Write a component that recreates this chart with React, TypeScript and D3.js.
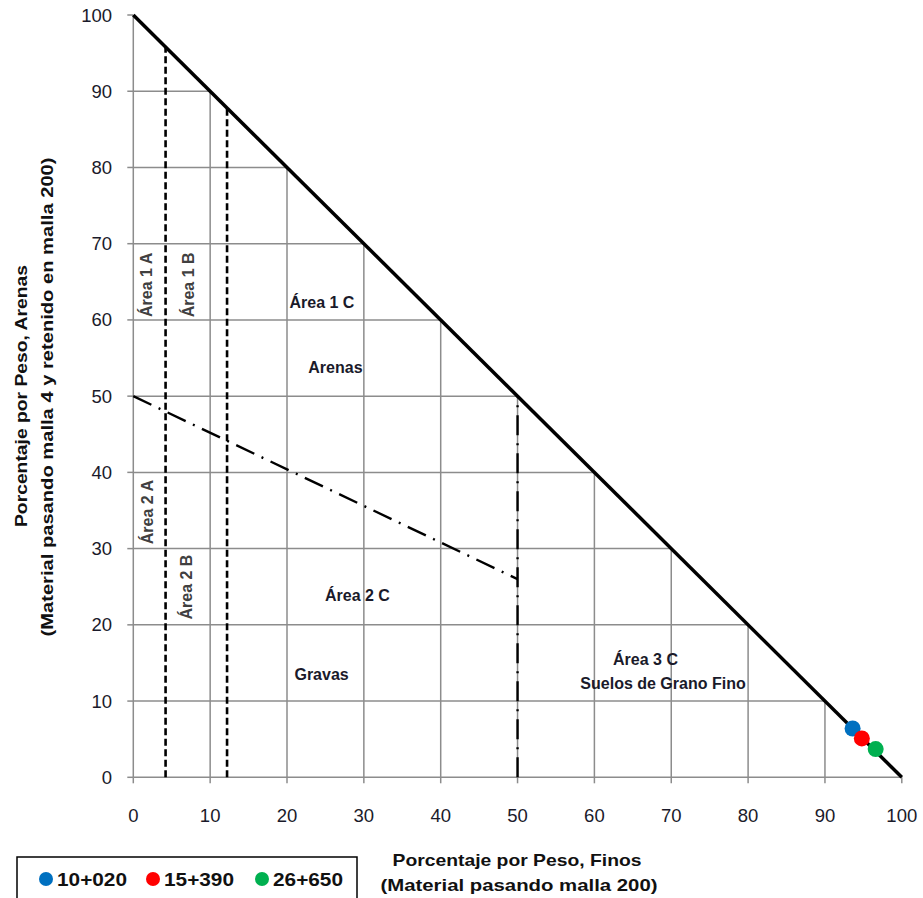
import React from "react";
import * as d3 from "d3";

const W = 923;
const H = 898;

const xTickValues = [0, 10, 20, 30, 40, 50, 60, 70, 80, 90, 100];
const yTickValues = [0, 10, 20, 30, 40, 50, 60, 70, 80, 90, 100];
const gridValues = [10, 20, 30, 40, 50, 60, 70, 80, 90];

const seriesNames = ["10+020", "15+390", "26+650"];
const seriesFines = [93.6, 94.8, 96.6];
const seriesSands = [6.4, 5.1, 3.7];
const seriesColors = ["#0070C0", "#FF0000", "#00B050"];

const dashedBoundaries = [4.2, 12.2];
const dashDotLine = [
  [0, 50],
  [50, 26],
];
const fineBoundary = 50;

const areaLabels = [
  { text: "Área 1 A", x: 1.78, y: 64.6, rotate: true },
  { text: "Área 1 B", x: 7.12, y: 64.6, rotate: true },
  { text: "Área 1 C", x: 24.55, y: 62.35, rotate: false },
  { text: "Arenas", x: 26.3, y: 53.7, rotate: false },
  { text: "Área 2 A", x: 1.85, y: 34.8, rotate: true },
  { text: "Área 2 B", x: 6.86, y: 24.96, rotate: true },
  { text: "Área 2 C", x: 29.17, y: 23.9, rotate: false },
  { text: "Gravas", x: 24.5, y: 13.55, rotate: false },
  { text: "Área 3 C", x: 66.65, y: 15.5, rotate: false },
  { text: "Suelos de Grano Fino", x: 68.93, y: 12.37, rotate: false },
];

const xTitle = ["Porcentaje por Peso, Finos", "(Material pasando malla 200)"];
const yTitle = [
  "Porcentaje por Peso, Arenas",
  "(Material pasando malla 4 y retenido en malla 200)",
];

const FONT = "'Liberation Sans', Arial, sans-serif";

export default function App() {
  const x = d3.scaleLinear().domain([0, 100]).range([133.3, 901.8]);
  const y = d3.scaleLinear().domain([0, 100]).range([777.3, 15]);
  const line = d3
    .line<number[]>()
    .x((d) => x(d[0]))
    .y((d) => y(d[1]));

  const gridColor = "#8c8c8c";

  return (
    <svg
      width={W}
      height={H}
      style={{ position: "absolute", left: 0, top: 0, background: "#fff" }}
      fontFamily={FONT}
    >
      <rect x={0} y={0} width={W} height={H} fill="#fff" />
      {/* grid clipped to triangle */}
      {gridValues.map((v) => (
        <line
          key={"gv" + v}
          x1={x(v)}
          x2={x(v)}
          y1={y(0)}
          y2={y(100 - v)}
          stroke={gridColor}
          strokeWidth={1.5}
        />
      ))}
      {gridValues.map((v) => (
        <line
          key={"gh" + v}
          x1={x(0)}
          x2={x(100 - v)}
          y1={y(v)}
          y2={y(v)}
          stroke={gridColor}
          strokeWidth={1.5}
        />
      ))}
      {/* axes */}
      <line x1={x(0)} x2={x(0)} y1={y(0)} y2={y(100)} stroke={gridColor} strokeWidth={1.5} />
      <line x1={x(0)} x2={x(100)} y1={y(0)} y2={y(0)} stroke={gridColor} strokeWidth={1.5} />
      {yTickValues.map((v) => (
        <g key={"yt" + v}>
          <line x1={x(0) - 6} x2={x(0)} y1={y(v)} y2={y(v)} stroke={gridColor} strokeWidth={1.5} />
          <text
            x={112}
            y={y(v)}
            textAnchor="end"
            dominantBaseline="central"
            fontSize={18.5}
            fill="#1a1a2a"
          >
            {v}
          </text>
        </g>
      ))}
      {xTickValues.map((v) => (
        <g key={"xt" + v}>
          <line x1={x(v)} x2={x(v)} y1={y(0)} y2={y(0) + 6} stroke={gridColor} strokeWidth={1.5} />
          <text
            x={x(v)}
            y={815}
            textAnchor="middle"
            dominantBaseline="central"
            fontSize={18.5}
            fill="#1a1a2a"
          >
            {v}
          </text>
        </g>
      ))}

      {/* dashed vertical boundaries */}
      {dashedBoundaries.map((v) => (
        <line
          key={"db" + v}
          x1={x(v)}
          x2={x(v)}
          y1={y(0)}
          y2={y(100 - v)}
          stroke="#000"
          strokeWidth={2.6}
          strokeDasharray="7,3.5"
        />
      ))}
      {/* dash-dot lines */}
      <path
        d={line(dashDotLine) || ""}
        fill="none"
        stroke="#000"
        strokeWidth={2.4}
        strokeDasharray="20,8,2,8"
      />
      <line
        x1={x(fineBoundary)}
        x2={x(fineBoundary)}
        y1={y(0)}
        y2={y(100 - fineBoundary)}
        stroke="#000"
        strokeWidth={2.4}
        strokeDasharray="20,8,2,8"
      />
      {/* main diagonal */}
      <path
        d={line([
          [0, 100],
          [100, 0],
        ]) || ""}
        fill="none"
        stroke="#000"
        strokeWidth={3.5}
      />

      {/* area labels */}
      {areaLabels.map((l) => (
        <text
          key={l.text}
          x={x(l.x)}
          y={y(l.y)}
          textAnchor="middle"
          dominantBaseline="central"
          fontSize={16}
          fontWeight="bold"
          fill={l.rotate ? "#404040" : "#1a1a2a"}
          transform={l.rotate ? `rotate(-90 ${x(l.x)} ${y(l.y)})` : undefined}
        >
          {l.text}
        </text>
      ))}

      {/* data points */}
      {seriesNames.map((n, i) => (
        <circle
          key={n}
          cx={x(seriesFines[i])}
          cy={y(seriesSands[i])}
          r={8}
          fill={seriesColors[i]}
        />
      ))}

      {/* axis titles */}
      <text
        x={517}
        y={860}
        textAnchor="middle"
        dominantBaseline="central"
        fontSize={17}
        fontWeight="bold"
        fill="#111"
        textLength={249}
        lengthAdjust="spacingAndGlyphs"
      >
        {xTitle[0]}
      </text>
      <text
        x={519}
        y={885}
        textAnchor="middle"
        dominantBaseline="central"
        fontSize={17}
        fontWeight="bold"
        fill="#111"
        textLength={277}
        lengthAdjust="spacingAndGlyphs"
      >
        {xTitle[1]}
      </text>
      <text
        x={21}
        y={396}
        textAnchor="middle"
        dominantBaseline="central"
        fontSize={17}
        fontWeight="bold"
        fill="#111"
        textLength={262}
        lengthAdjust="spacingAndGlyphs"
        transform="rotate(-90 21 396)"
      >
        {yTitle[0]}
      </text>
      <text
        x={47}
        y={397}
        textAnchor="middle"
        dominantBaseline="central"
        fontSize={17}
        fontWeight="bold"
        fill="#111"
        textLength={479}
        lengthAdjust="spacingAndGlyphs"
        transform="rotate(-90 47 397)"
      >
        {yTitle[1]}
      </text>

      {/* legend */}
      <rect x={17} y={857} width={340} height={60} fill="#fff" stroke="#000" strokeWidth={1.5} />
      {seriesNames.map((n, i) => {
        const lx = [46, 153, 262][i];
        return (
          <g key={"lg" + n}>
            <circle cx={lx} cy={879} r={7} fill={seriesColors[i]} />
            <text
              x={lx + 11}
              y={879}
              dominantBaseline="central"
              fontSize={19}
              fontWeight="bold"
              fill="#111"
              textLength={70}
              lengthAdjust="spacingAndGlyphs"
            >
              {n}
            </text>
          </g>
        );
      })}
    </svg>
  );
}
